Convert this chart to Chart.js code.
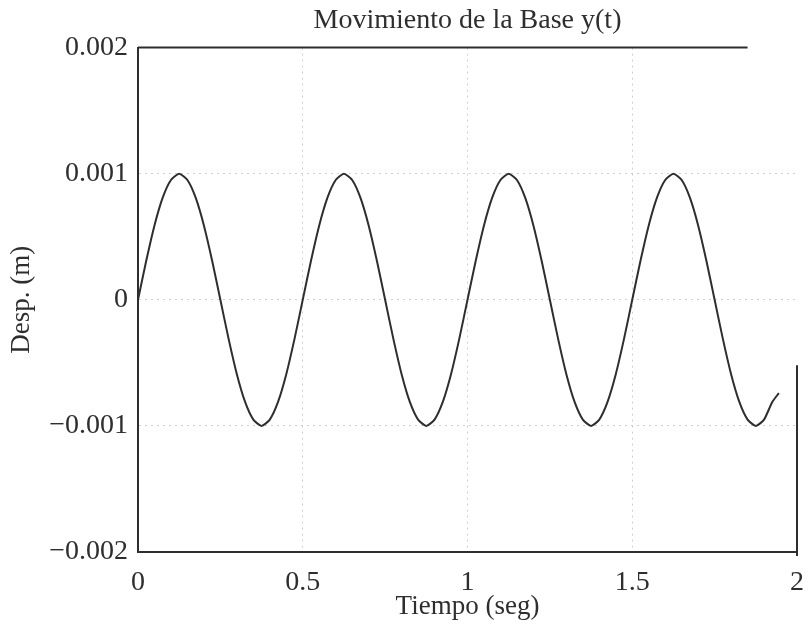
<!DOCTYPE html>
<html>
<head>
<meta charset="utf-8">
<script src="https://cdn.jsdelivr.net/npm/chart.js@4/dist/chart.umd.min.js"></script>
<style>
  html, body { margin: 0; padding: 0; background: #fff; }
  #wrap { width: 809px; height: 641px; }
</style>
</head>
<body>
<div id="wrap"><canvas id="baseChart" width="809" height="641"></canvas></div>
<script>
// time (s) and base displacement (m)
const tiempo = [
  0, 0.025, 0.05, 0.075, 0.1, 0.125, 0.15, 0.175, 0.2, 0.225,
  0.25, 0.275, 0.3, 0.325, 0.35, 0.375, 0.4, 0.425, 0.45, 0.475,
  0.5, 0.525, 0.55, 0.575, 0.6, 0.625, 0.65, 0.675, 0.7, 0.725,
  0.75, 0.775, 0.8, 0.825, 0.85, 0.875, 0.9, 0.925, 0.95, 0.975,
  1, 1.025, 1.05, 1.075, 1.1, 1.125, 1.15, 1.175, 1.2, 1.225,
  1.25, 1.275, 1.3, 1.325, 1.35, 1.375, 1.4, 1.425, 1.45, 1.475,
  1.5, 1.525, 1.55, 1.575, 1.6, 1.625, 1.65, 1.675, 1.7, 1.725,
  1.75, 1.775, 1.8, 1.825, 1.85, 1.875, 1.9, 1.925, 1.945
];
const desp = [
  0, 0.00031, 0.00059, 0.00081, 0.00095, 0.001, 0.00095, 0.00081, 0.00059, 0.00031,
  0, -0.00031, -0.00059, -0.00081, -0.00095, -0.001, -0.00095, -0.00081, -0.00059, -0.00031,
  0, 0.00031, 0.00059, 0.00081, 0.00095, 0.001, 0.00095, 0.00081, 0.00059, 0.00031,
  0, -0.00031, -0.00059, -0.00081, -0.00095, -0.001, -0.00095, -0.00081, -0.00059, -0.00031,
  0, 0.00031, 0.00059, 0.00081, 0.00095, 0.001, 0.00095, 0.00081, 0.00059, 0.00031,
  0, -0.00031, -0.00059, -0.00081, -0.00095, -0.001, -0.00095, -0.00081, -0.00059, -0.00031,
  0, 0.00031, 0.00059, 0.00081, 0.00095, 0.001, 0.00095, 0.00081, 0.00059, 0.00031,
  0, -0.00031, -0.00059, -0.00081, -0.00095, -0.001, -0.00095, -0.00081, -0.00074
];

const xTicks = [0, 0.5, 1, 1.5, 2];
const xTickLabels = ['0', '0.5', '1', '1.5', '2'];
const yTicks = [-0.002, -0.001, 0, 0.001, 0.002];
const yTickLabels = ['\u22120.002', '\u22120.001', '0', '0.001', '0.002'];

const ink = '#2e2e2e';
const serif = "'Liberation Serif', 'DejaVu Serif', serif";

// top line and the short right edge, as they appear in the scan
const frameLines = {
  id: 'frameLines',
  afterDraw(chart) {
    const { ctx, chartArea, scales } = chart;
    ctx.save();
    ctx.strokeStyle = ink;
    ctx.lineWidth = 2;
    ctx.beginPath();
    ctx.moveTo(chartArea.left, chartArea.top);
    ctx.lineTo(scales.x.getPixelForValue(1.85), chartArea.top);
    ctx.moveTo(chartArea.right, scales.y.getPixelForValue(-0.00052));
    ctx.lineTo(chartArea.right, chartArea.bottom + 4);
    ctx.stroke();
    ctx.restore();
  }
};

// solid axis lines on the left and bottom (border dash is used for the grid)
const axisLines = {
  id: 'axisLines',
  afterDraw(chart) {
    const { ctx, chartArea } = chart;
    ctx.save();
    ctx.strokeStyle = ink;
    ctx.lineWidth = 2;
    ctx.setLineDash([]);
    ctx.beginPath();
    ctx.moveTo(chartArea.left, chartArea.top);
    ctx.lineTo(chartArea.left, chartArea.bottom);
    ctx.lineTo(chartArea.right, chartArea.bottom);
    ctx.stroke();
    ctx.restore();
  }
};

const ctx = document.getElementById('baseChart').getContext('2d');
new Chart(ctx, {
  type: 'line',
  data: {
    datasets: [{
      data: tiempo.map((t, i) => ({ x: t, y: desp[i] })),
      borderColor: ink,
      borderWidth: 2,
      pointRadius: 0,
      tension: 0.2,
      fill: false
    }]
  },
  options: {
    responsive: false,
    animation: false,
    layout: { padding: { left: 0, right: 12, top: 0, bottom: 0 } },
    plugins: {
      legend: { display: false },
      tooltip: { enabled: false },
      title: {
        display: true,
        text: 'Movimiento de la Base y(t)',
        fullSize: false,
        color: ink,
        font: { family: serif, size: 28, weight: 'normal' },
        padding: { top: 4, bottom: 10 }
      }
    },
    scales: {
      x: {
        type: 'linear',
        min: 0,
        max: 2,
        afterBuildTicks: axis => { axis.ticks = xTicks.map(v => ({ value: v })); },
        afterFit: axis => { axis.height = 89; axis.paddingLeft = 0; axis.paddingRight = 0; },
        ticks: {
          color: ink,
          font: { family: serif, size: 28 },
          padding: 14,
          maxRotation: 0,
          callback: (v) => xTickLabels[xTicks.indexOf(v)]
        },
        grid: {
          drawTicks: false,
          color: c => (c.tick && (c.tick.value === 0 || c.tick.value === 2)) ? 'rgba(0,0,0,0)' : '#cfcfcf',
          lineWidth: 1
        },
        border: { display: true, color: ink, width: 2, dash: [2, 4] },
        title: {
          display: true,
          text: 'Tiempo (seg)',
          color: ink,
          font: { family: serif, size: 27 },
          padding: { top: 0, bottom: 18 }
        }
      },
      y: {
        type: 'linear',
        min: -0.002,
        max: 0.002,
        afterBuildTicks: axis => { axis.ticks = yTicks.map(v => ({ value: v })); },
        afterFit: axis => { axis.width = 138; axis.paddingTop = 0; axis.paddingBottom = 0; },
        ticks: {
          color: ink,
          font: { family: serif, size: 28 },
          padding: 10,
          callback: (v) => yTickLabels[yTicks.indexOf(v)]
        },
        grid: {
          drawTicks: false,
          color: c => (c.tick && Math.abs(c.tick.value) > 0.0015) ? 'rgba(0,0,0,0)' : '#cfcfcf',
          lineWidth: 1
        },
        border: { display: true, color: ink, width: 2, dash: [2, 4] },
        title: {
          display: true,
          text: 'Desp. (m)',
          color: ink,
          font: { family: serif, size: 27 },
          padding: { top: 6, bottom: 0 }
        }
      }
    }
  },
  plugins: [frameLines, axisLines]
});
</script>
</body>
</html>
